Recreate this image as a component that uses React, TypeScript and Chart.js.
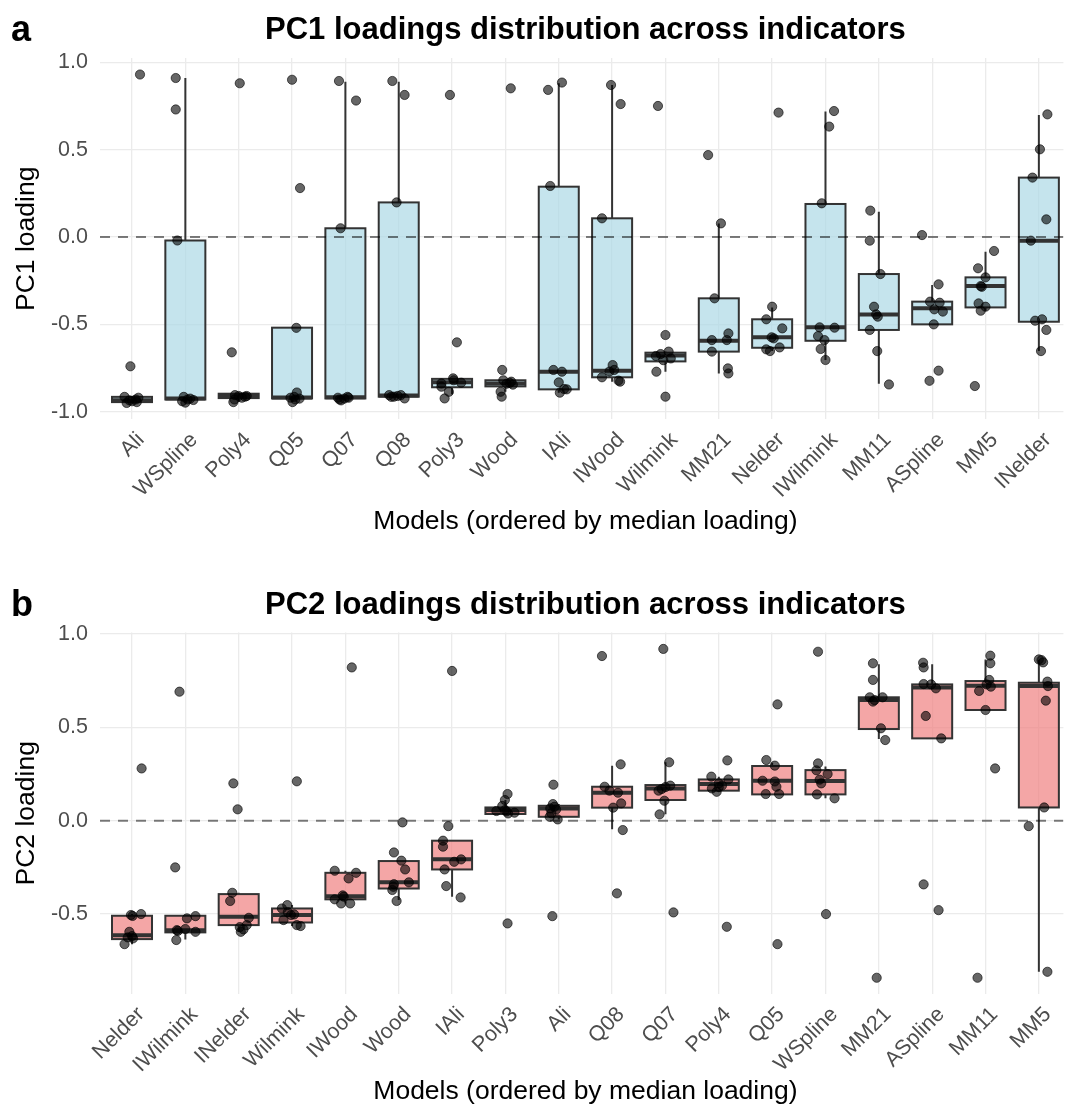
import { useEffect, useRef } from "react";
import { Chart, registerables } from "chart.js";

Chart.register(...registerables);

// ---------- Panel a (PC1) ----------
const pc1Models = ["Ali", "WSpline", "Poly4", "Q05", "Q07", "Q08", "Poly3", "Wood", "IAli", "IWood", "Wilmink", "MM21", "Nelder", "IWilmink", "MM11", "ASpline", "MM5", "INelder"];
const pc1Lower = [-0.95, -0.95, -0.945, -0.945, -0.935, -0.924, -0.9, -0.886, -0.891, -0.828, -0.771, -0.781, -0.653, -0.704, -0.84, -0.5, -0.422, -0.653];
const pc1Q1 = [-0.945, -0.93, -0.922, -0.924, -0.924, -0.914, -0.86, -0.855, -0.872, -0.803, -0.712, -0.656, -0.634, -0.594, -0.532, -0.5, -0.403, -0.485];
const pc1Median = [-0.935, -0.925, -0.91, -0.918, -0.917, -0.907, -0.832, -0.838, -0.771, -0.765, -0.678, -0.594, -0.574, -0.517, -0.443, -0.408, -0.281, -0.021];
const pc1Q3 = [-0.915, -0.02, -0.897, -0.519, 0.05, 0.198, -0.812, -0.82, 0.288, 0.107, -0.662, -0.351, -0.471, 0.189, -0.212, -0.37, -0.231, 0.34];
const pc1Upper = [-0.91, 0.91, -0.89, -0.519, 0.889, 0.889, -0.81, -0.82, 0.88, 0.87, -0.656, 0.078, -0.403, 0.718, 0.145, -0.275, -0.084, 0.698];
const pc1Points = [
  [0.93, -0.74, -0.915, -0.92, -0.93, -0.935, -0.94, -0.945, -0.95],
  [0.91, 0.73, -0.02, -0.915, -0.925, -0.948, -0.933, -0.93, -0.94],
  [0.88, -0.66, -0.905, -0.91, -0.945, -0.914, -0.91, -0.92, -0.93],
  [0.9, 0.28, -0.52, -0.89, -0.915, -0.945, -0.925, -0.92, -0.93],
  [0.893, 0.781, 0.05, -0.93, -0.915, -0.92, -0.925, -0.935, -0.92],
  [0.893, 0.813, 0.198, -0.905, -0.914, -0.905, -0.924, -0.91, -0.915],
  [0.813, -0.603, -0.809, -0.838, -0.886, -0.924, -0.834, -0.857, -0.82],
  [0.851, -0.761, -0.828, -0.84, -0.886, -0.914, -0.835, -0.845, -0.82],
  [0.842, 0.884, 0.292, -0.761, -0.771, -0.832, -0.872, -0.891, -0.87],
  [0.87, 0.761, 0.107, -0.733, -0.761, -0.803, -0.822, -0.828, -0.77],
  [0.75, -0.561, -0.656, -0.67, -0.681, -0.695, -0.705, -0.771, -0.914],
  [0.469, 0.078, -0.351, -0.59, -0.59, -0.552, -0.656, -0.752, -0.781],
  [0.712, -0.399, -0.471, -0.523, -0.58, -0.574, -0.643, -0.632, -0.653],
  [0.721, 0.632, 0.193, -0.517, -0.519, -0.567, -0.59, -0.641, -0.704],
  [0.151, -0.021, -0.212, -0.399, -0.443, -0.456, -0.532, -0.653, -0.844],
  [0.011, -0.271, -0.37, -0.376, -0.414, -0.427, -0.5, -0.765, -0.823],
  [-0.08, -0.179, -0.231, -0.281, -0.285, -0.38, -0.399, -0.422, -0.853],
  [0.702, 0.502, 0.34, 0.101, -0.021, -0.479, -0.471, -0.532, -0.653],
];
const pc1Jitter = [
  [0.15, -0.03, -0.14, 0.12, 0.07, -0.05, 0.0, 0.09, -0.1],
  [-0.18, -0.18, -0.15, -0.03, 0.09, 0.0, 0.15, 0.04, -0.06],
  [0.02, -0.13, -0.07, 0.15, -0.1, 0.12, 0.0, 0.06, -0.08],
  [0.0, 0.15, 0.08, 0.09, 0.04, 0.01, 0.14, -0.03, 0.06],
  [-0.12, 0.2, -0.09, -0.11, 0.04, -0.14, -0.02, -0.08, 0.06],
  [-0.12, 0.11, -0.04, -0.18, -0.09, 0.04, 0.11, -0.02, -0.14],
  [-0.04, 0.09, 0.02, -0.2, -0.06, -0.14, 0.17, -0.2, 0.03],
  [0.1, -0.06, 0.11, 0.02, -0.09, -0.07, 0.08, 0.14, -0.04],
  [-0.2, 0.06, -0.16, -0.1, 0.06, 0.0, 0.15, 0.02, 0.1],
  [-0.02, 0.16, -0.19, 0.01, 0.04, -0.19, 0.12, 0.15, -0.05],
  [-0.14, 0.0, 0.06, -0.09, -0.18, 0.1, -0.04, -0.17, 0.0],
  [-0.2, 0.04, -0.08, -0.13, 0.15, 0.18, -0.13, 0.17, 0.18],
  [0.12, 0.0, -0.11, 0.19, 0.03, -0.01, -0.11, 0.14, -0.04],
  [0.16, 0.07, -0.07, -0.11, 0.17, -0.14, -0.02, -0.09, 0.0],
  [-0.16, -0.17, 0.03, -0.09, -0.05, -0.02, -0.17, -0.03, 0.19],
  [-0.19, 0.12, -0.04, 0.14, 0.04, 0.2, 0.03, 0.12, -0.05],
  [0.16, -0.14, 0.0, -0.09, -0.07, -0.13, 0.0, -0.09, -0.2],
  [0.16, 0.02, -0.12, 0.14, -0.15, -0.07, 0.06, 0.14, 0.04],
];
const pc1YTicks = [-1, -0.5, 0, 0.5, 1];

// ---------- Panel b (PC2) ----------
const pc2Models = ["Nelder", "IWilmink", "INelder", "Wilmink", "IWood", "Wood", "IAli", "Poly3", "Ali", "Q08", "Q07", "Poly4", "Q05", "WSpline", "MM21", "ASpline", "MM11", "MM5"];
const pc2Lower = [-0.661, -0.636, -0.595, -0.564, -0.443, -0.425, -0.407, 0.036, 0.007, -0.046, 0.034, 0.155, 0.141, 0.12, 0.438, 0.441, 0.593, -0.809];
const pc2Q1 = [-0.634, -0.598, -0.559, -0.545, -0.421, -0.363, -0.261, 0.036, 0.021, 0.07, 0.111, 0.161, 0.141, 0.141, 0.491, 0.441, 0.593, 0.071];
const pc2Median = [-0.613, -0.586, -0.514, -0.505, -0.404, -0.33, -0.207, 0.057, 0.066, 0.15, 0.173, 0.196, 0.214, 0.213, 0.646, 0.714, 0.723, 0.721];
const pc2Q3 = [-0.509, -0.509, -0.393, -0.47, -0.279, -0.216, -0.107, 0.071, 0.08, 0.182, 0.191, 0.221, 0.293, 0.271, 0.661, 0.73, 0.748, 0.739];
const pc2Upper = [-0.5, -0.509, -0.386, -0.452, -0.268, -0.216, -0.107, 0.111, 0.089, 0.295, 0.313, 0.236, 0.31, 0.29, 0.838, 0.838, 0.864, 0.861];
const pc2Points = [
  [0.28, -0.505, -0.5, -0.51, -0.595, -0.618, -0.63, -0.661, -0.625],
  [0.691, -0.25, -0.523, -0.511, -0.586, -0.595, -0.639, -0.59, -0.58],
  [0.2, 0.061, -0.386, -0.43, -0.52, -0.582, -0.595, -0.559, -0.57],
  [0.211, -0.452, -0.47, -0.502, -0.532, -0.559, -0.564, -0.505, -0.49],
  [0.821, -0.268, -0.279, -0.309, -0.421, -0.443, -0.443, -0.407, -0.4],
  [-0.009, -0.17, -0.214, -0.261, -0.33, -0.354, -0.371, -0.43, -0.34],
  [0.802, -0.029, -0.107, -0.139, -0.207, -0.22, -0.261, -0.35, -0.411],
  [0.143, 0.111, 0.079, 0.052, 0.05, 0.043, 0.039, -0.55, 0.057],
  [0.193, 0.089, 0.066, 0.06, 0.021, 0.007, -0.511, 0.075, 0.04],
  [0.882, 0.302, 0.182, 0.161, 0.15, 0.093, 0.07, -0.05, -0.389],
  [0.92, 0.313, 0.188, 0.18, 0.161, 0.107, 0.034, -0.491, 0.17],
  [0.323, 0.236, 0.221, 0.2, 0.155, 0.173, 0.188, -0.568, 0.18],
  [0.623, 0.325, 0.295, 0.214, 0.21, 0.182, 0.143, 0.143, -0.661],
  [0.905, 0.307, 0.27, 0.22, 0.2, 0.141, 0.12, -0.5, 0.25],
  [0.843, 0.754, 0.661, 0.661, 0.638, 0.495, 0.432, -0.841, 0.646],
  [0.846, 0.821, 0.732, 0.73, 0.709, 0.561, 0.441, -0.341, -0.479],
  [0.884, 0.843, 0.754, 0.718, 0.695, 0.593, 0.28, -0.841, 0.73],
  [0.864, 0.848, 0.745, 0.721, 0.643, 0.071, -0.029, -0.809, 0.86],
];
const pc2Jitter = [
  [0.18, -0.02, 0.17, 0.01, -0.05, 0.0, 0.02, -0.14, -0.08],
  [-0.11, -0.19, 0.03, 0.19, -0.16, 0.19, -0.17, -0.14, 0.0],
  [-0.1, -0.02, -0.12, -0.16, 0.19, 0.09, 0.04, 0.15, 0.02],
  [0.09, -0.09, -0.19, 0.04, -0.16, 0.09, 0.16, -0.02, -0.08],
  [0.12, -0.2, 0.2, 0.06, -0.2, -0.08, 0.09, -0.03, -0.05],
  [0.07, -0.09, 0.05, 0.12, 0.19, -0.1, -0.12, -0.04, -0.09],
  [0.0, -0.07, -0.17, -0.17, 0.17, 0.04, -0.14, -0.11, 0.16],
  [0.04, -0.01, -0.06, -0.17, 0.02, 0.17, 0.05, 0.04, -0.01],
  [-0.1, -0.11, -0.16, -0.05, -0.17, -0.02, -0.12, -0.08, -0.14],
  [-0.19, 0.16, -0.14, -0.05, 0.11, 0.17, 0.02, 0.2, 0.09],
  [-0.04, 0.07, 0.09, 0.0, -0.13, -0.02, -0.11, 0.15, -0.07],
  [0.16, -0.14, 0.18, 0.0, -0.04, -0.13, 0.06, 0.15, 0.0],
  [0.1, -0.11, 0.05, -0.18, 0.05, 0.08, -0.12, 0.13, 0.1],
  [-0.14, -0.14, -0.17, -0.11, -0.08, -0.16, 0.17, 0.01, 0.04],
  [-0.11, -0.11, -0.17, 0.07, -0.11, 0.04, 0.12, -0.04, -0.08],
  [-0.17, -0.16, -0.16, -0.02, 0.07, -0.12, 0.17, -0.16, 0.12],
  [0.09, 0.09, 0.07, 0.1, -0.12, 0.0, 0.18, -0.15, 0.02],
  [0.0, 0.08, 0.16, 0.17, 0.13, 0.1, -0.19, 0.16, 0.05],
];
const pc2YTicks = [-0.5, 0, 0.5, 1];

// ---------- Styling ----------
const FONT = "'Liberation Sans', Arial, Helvetica, sans-serif";
const WIDTH = 1069;
const X_MIN = -0.6;
const X_MAX = 17.46;
const BOX_HALF = 0.375;
const GRID = "#ebebeb";
const BOX_LINE = "#333333";
const TICK_COLOR = "#4d4d4d";
const X_TITLE = "Models (ordered by median loading)";
const AXIS_TITLE_SIZE = 26.5;

type PanelSpec = {
  tag: string;
  title: string;
  yTitle: string;
  models: string[];
  lower: number[];
  q1: number[];
  median: number[];
  q3: number[];
  upper: number[];
  points: number[][];
  jitter: number[][];
  yMin: number;
  yMax: number;
  yTicks: number[];
  fill: string;
  height: number;
  plotTop: number;
  plotBottom: number;
  titleBaseline: number;
  tagBaseline: number;
  xTitleMid: number;
};

const panelA: PanelSpec = {
  tag: "a",
  title: "PC1 loadings distribution across indicators",
  yTitle: "PC1 loading",
  models: pc1Models,
  lower: pc1Lower,
  q1: pc1Q1,
  median: pc1Median,
  q3: pc1Q3,
  upper: pc1Upper,
  points: pc1Points,
  jitter: pc1Jitter,
  yMin: -1.044,
  yMax: 1.024,
  yTicks: pc1YTicks,
  fill: "rgba(173,216,230,0.7)",
  height: 555,
  plotTop: 58.1,
  plotBottom: 419.4,
  titleBaseline: 39,
  tagBaseline: 41,
  xTitleMid: 522,
};

const panelB: PanelSpec = {
  tag: "b",
  title: "PC2 loadings distribution across indicators",
  yTitle: "PC2 loading",
  models: pc2Models,
  lower: pc2Lower,
  q1: pc2Q1,
  median: pc2Median,
  q3: pc2Q3,
  upper: pc2Upper,
  points: pc2Points,
  jitter: pc2Jitter,
  yMin: -0.928,
  yMax: 1.008,
  yTicks: pc2YTicks,
  fill: "rgba(240,128,128,0.7)",
  height: 553,
  plotTop: 77.5,
  plotBottom: 439,
  titleBaseline: 59,
  tagBaseline: 61,
  xTitleMid: 537,
};

function buildChart(canvas: HTMLCanvasElement, s: PanelSpec) {
  const pointData: { x: number; y: number }[] = [];
  s.points.forEach((vals, i) => {
    vals.forEach((v, j) => pointData.push({ x: i + s.jitter[i][j], y: v }));
  });

  const boxPlugin = {
    id: "boxplot-" + s.tag,
    beforeDatasetsDraw(chart: any) {
      const { ctx, chartArea } = chart;
      const x = chart.scales.x;
      const y = chart.scales.y;
      ctx.save();
      ctx.beginPath();
      ctx.rect(chartArea.left, chartArea.top, chartArea.right - chartArea.left, chartArea.bottom - chartArea.top);
      ctx.clip();
      s.models.forEach((_m, i) => {
        const cx = x.getPixelForValue(i);
        const left = x.getPixelForValue(i - BOX_HALF);
        const right = x.getPixelForValue(i + BOX_HALF);
        const yLo = y.getPixelForValue(s.lower[i]);
        const yQ1 = y.getPixelForValue(s.q1[i]);
        const yMed = y.getPixelForValue(s.median[i]);
        const yQ3 = y.getPixelForValue(s.q3[i]);
        const yHi = y.getPixelForValue(s.upper[i]);
        ctx.strokeStyle = BOX_LINE;
        ctx.lineWidth = 2;
        ctx.setLineDash([]);
        ctx.beginPath();
        ctx.moveTo(cx, yQ3);
        ctx.lineTo(cx, yHi);
        ctx.moveTo(cx, yQ1);
        ctx.lineTo(cx, yLo);
        ctx.stroke();
        ctx.fillStyle = s.fill;
        ctx.fillRect(left, yQ3, right - left, yQ1 - yQ3);
        ctx.strokeRect(left, yQ3, right - left, yQ1 - yQ3);
        ctx.lineWidth = 4;
        ctx.beginPath();
        ctx.moveTo(left, yMed);
        ctx.lineTo(right, yMed);
        ctx.stroke();
      });
      const y0 = y.getPixelForValue(0);
      ctx.setLineDash([10, 8]);
      ctx.strokeStyle = "rgba(0,0,0,0.5)";
      ctx.lineWidth = 2;
      ctx.beginPath();
      ctx.moveTo(chartArea.left, y0);
      ctx.lineTo(chartArea.right, y0);
      ctx.stroke();
      ctx.restore();
    },
    afterDraw(chart: any) {
      const { ctx } = chart;
      const x = chart.scales.x;
      const mid = x.getPixelForValue((s.models.length - 1) / 2);
      ctx.save();
      ctx.fillStyle = "#000000";
      ctx.textBaseline = "alphabetic";
      ctx.font = `bold 31px ${FONT}`;
      ctx.textAlign = "center";
      ctx.fillText(s.title, mid, s.titleBaseline);
      ctx.font = `bold 36px ${FONT}`;
      ctx.textAlign = "left";
      ctx.fillText(s.tag, 11, s.tagBaseline);
      ctx.font = `${AXIS_TITLE_SIZE}px ${FONT}`;
      ctx.textAlign = "center";
      ctx.textBaseline = "middle";
      ctx.fillText(X_TITLE, mid, s.xTitleMid);
      ctx.restore();
    },
  };

  return new Chart(canvas, {
    type: "scatter",
    data: {
      datasets: [
        {
          data: pointData,
          pointRadius: 4.6,
          pointHoverRadius: 4.6,
          backgroundColor: "rgba(0,0,0,0.6)",
          borderColor: "rgba(0,0,0,0.62)",
          borderWidth: 1,
        },
      ],
    },
    options: {
      responsive: false,
      animation: false,
      events: [],
      layout: { padding: { top: s.plotTop, left: 0, right: 0, bottom: 0 } },
      plugins: {
        legend: { display: false },
        tooltip: { enabled: false },
        title: { display: false },
      },
      scales: {
        x: {
          type: "linear",
          min: X_MIN,
          max: X_MAX,
          afterBuildTicks: (sc: any) => {
            sc.ticks = s.models.map((_m, i) => ({ value: i }));
          },
          afterFit: (sc: any) => {
            sc.height = s.height - s.plotBottom;
            sc.paddingLeft = 0;
            sc.paddingRight = 0;
          },
          grid: { color: GRID, lineWidth: 1.3, drawTicks: false },
          border: { display: false },
          ticks: {
            autoSkip: false,
            minRotation: 45,
            maxRotation: 45,
            padding: 8,
            labelOffset: 9,
            color: TICK_COLOR,
            font: { size: 21.5, family: FONT },
            callback: (_v: any, i: number) => s.models[i],
          },
          title: { display: false },
        },
        y: {
          type: "linear",
          min: s.yMin,
          max: s.yMax,
          afterBuildTicks: (sc: any) => {
            sc.ticks = s.yTicks.map((v) => ({ value: v }));
          },
          afterFit: (sc: any) => {
            sc.width = 100;
            sc.paddingTop = 0;
            sc.paddingBottom = 0;
          },
          grid: { color: GRID, lineWidth: 1.3, drawTicks: false },
          border: { display: false },
          ticks: {
            padding: 12,
            color: TICK_COLOR,
            font: { size: 21.5, family: FONT },
            callback: (v: any) => Number(v).toFixed(1),
          },
          title: {
            display: true,
            text: s.yTitle,
            color: "#000000",
            font: { size: AXIS_TITLE_SIZE, family: FONT },
            padding: { top: 11, bottom: 0 },
          },
        },
      },
    },
    plugins: [boxPlugin],
  } as any);
}

function Panel({ spec }: { spec: PanelSpec }) {
  const ref = useRef<HTMLCanvasElement | null>(null);
  useEffect(() => {
    if (!ref.current) return;
    const chart = buildChart(ref.current, spec);
    return () => chart.destroy();
  }, [spec]);
  return <canvas ref={ref} width={WIDTH} height={spec.height} style={{ display: "block", width: WIDTH, height: spec.height }} />;
}

export default function App() {
  return (
    <div style={{ position: "absolute", left: 0, top: 0, width: WIDTH, height: 1108, background: "#ffffff" }}>
      <Panel spec={panelA} />
      <Panel spec={panelB} />
    </div>
  );
}
